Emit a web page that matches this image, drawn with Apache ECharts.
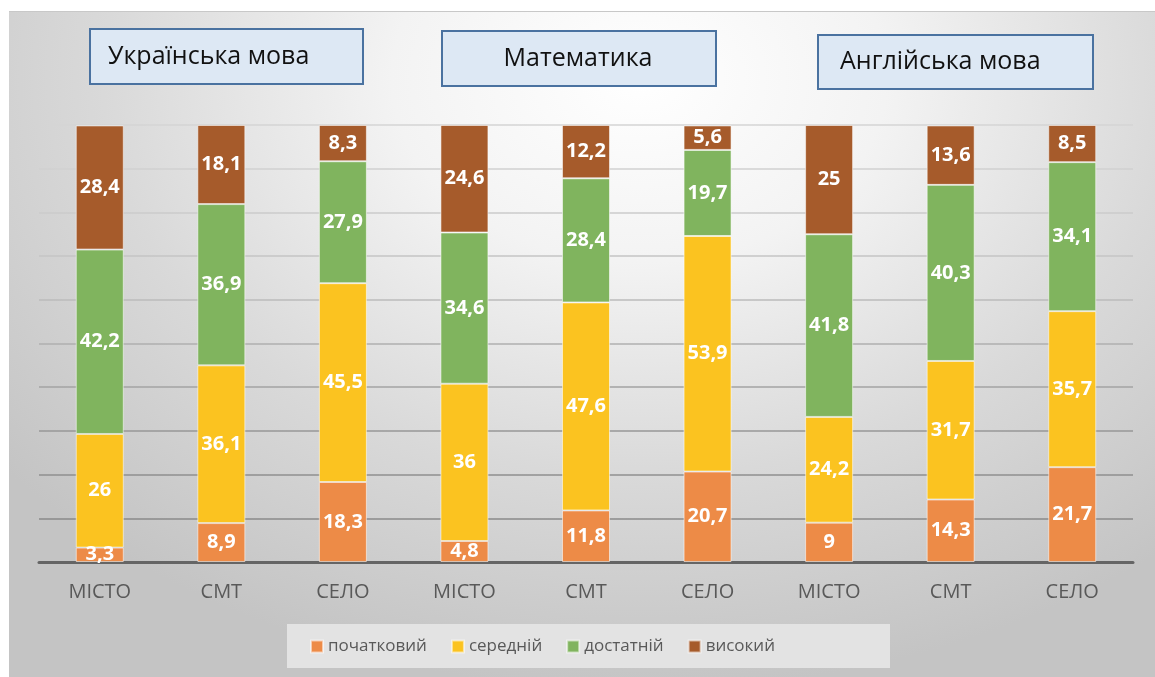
<!DOCTYPE html>
<html>
<head>
<meta charset="utf-8">
<script src="https://cdn.jsdelivr.net/npm/echarts@6/dist/echarts.min.js"></script>
<style>
  html, body { margin: 0; padding: 0; background: #ffffff; width: 1155px; height: 677px; overflow: hidden; }
  #chart {
    position: absolute;
    left: 9px;
    top: 12px;
    width: 1146px;
    height: 665px;
    box-shadow: 0 -1px 0 #c8c8c8;
    background: radial-gradient(ellipse 72% 92% at 55% 10%, #ffffff 0%, #f3f3f3 30%, #d9d9d9 65%, #c4c4c4 100%);
  }
</style>
</head>
<body>
<div id="chart"></div>
<script>
const categories = ["МІСТО", "СМТ", "СЕЛО", "МІСТО", "СМТ", "СЕЛО", "МІСТО", "СМТ", "СЕЛО"];
const seriesNames = ["початковий", "середній", "достатній", "високий"];
const pochatkovyi = [3.3, 8.9, 18.3, 4.8, 11.8, 20.7, 9, 14.3, 21.7];
const serednii = [26, 36.1, 45.5, 36, 47.6, 53.9, 24.2, 31.7, 35.7];
const dostatnii = [42.2, 36.9, 27.9, 34.6, 28.4, 19.7, 41.8, 40.3, 34.1];
const vysokyi = [28.4, 18.1, 8.3, 24.6, 12.2, 5.6, 25, 13.6, 8.5];
const subjects = ["Українська мова", "Математика", "Англійська мова"];

const colors = ["#ED8B47", "#FBC320", "#80B45E", "#A65B2B"];
const values = [pochatkovyi, serednii, dostatnii, vysokyi];
const font = "'Open Sans', 'Noto Sans', sans-serif";

// split lines get darker toward the bottom
const gridColors = ["#8a8a8a", "#8a8a8a", "#8f8f8f", "#979797", "#a3a3a3", "#afafaf", "#bbbbbb", "#c4c4c4", "#cbcbcb", "#d0d0d0", "#d4d4d4"];

const chart = echarts.init(document.getElementById("chart"), null, { renderer: "canvas" });

const series = seriesNames.map((name, i) => ({
  name: name,
  type: "bar",
  stack: "total",
  barWidth: 48,
  data: values[i],
  itemStyle: {
    color: colors[i],
    borderColor: "rgba(255,255,255,0.55)",
    borderWidth: 1,
  },
  label: {
    show: true,
    position: "inside",
    color: "#ffffff",
    fontFamily: font,
    fontWeight: "bold",
    fontSize: 20,
    formatter: (p) => String(p.value).replace(".", ","),
  },
}));

// title boxes + legend box
const boxes = [
  { x: 80, y: 16, w: 273, h: 55, tx: 99 },
  { x: 432, y: 18, w: 274, h: 55, tx: null },
  { x: 808, y: 22, w: 275, h: 54, tx: 831 },
];
const graphic = [
  {
    type: "rect",
    left: 278,
    top: 612,
    shape: { width: 603, height: 44 },
    style: { fill: "#e3e3e3" },
    z: 0,
  },
];
boxes.forEach((b, i) => {
  graphic.push({
    type: "rect",
    left: b.x,
    top: b.y,
    shape: { width: b.w, height: b.h },
    style: { fill: "#DDE8F4", stroke: "#4A72A0", lineWidth: 2 },
    z: 10,
  });
  graphic.push({
    type: "text",
    x: b.tx === null ? b.x + b.w / 2 : b.tx,
    y: b.y + b.h / 2 + 1,
    style: {
      text: subjects[i],
      fill: "#111111",
      font: "25px " + font,
      textAlign: b.tx === null ? "center" : "left",
      textVerticalAlign: "middle",
    },
    z: 11,
  });
});

chart.setOption({
  animation: false,
  color: colors,
  grid: { left: 30, right: 22, top: 113, bottom: 115 },
  legend: {
    data: seriesNames,
    left: 301,
    top: 626,
    padding: 0,
    itemWidth: 12,
    itemHeight: 12,
    itemGap: 24,
    icon: "rect",
    textStyle: { color: "#595959", fontSize: 17, fontFamily: font },
  },
  xAxis: {
    type: "category",
    data: categories,
    axisLine: { lineStyle: { color: "#656565", width: 3 } },
    axisTick: { show: false },
    axisLabel: { color: "#595959", fontSize: 20, fontFamily: font, margin: 20 },
  },
  yAxis: {
    type: "value",
    min: 0,
    max: 100,
    interval: 10,
    axisLabel: { show: false },
    axisLine: { show: false },
    axisTick: { show: false },
    splitLine: { lineStyle: { color: gridColors, width: 1.5 } },
  },
  graphic: graphic,
  series: series,
});
</script>
</body>
</html>
